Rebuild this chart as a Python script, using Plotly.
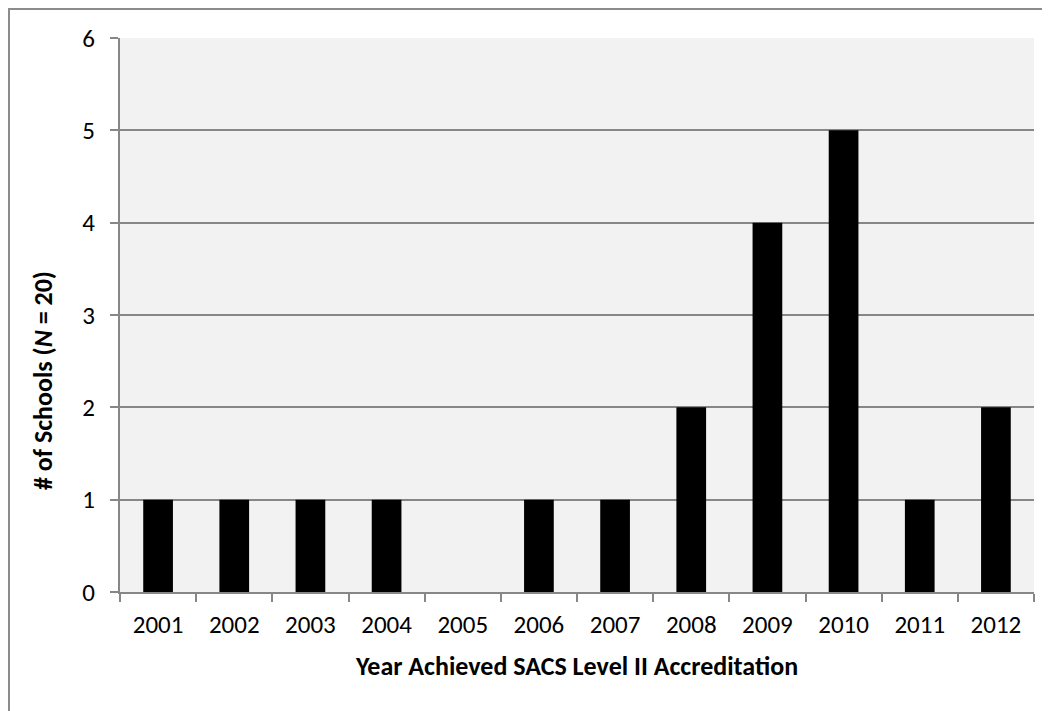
import plotly.graph_objects as go

years = ["2001", "2002", "2003", "2004", "2005", "2006", "2007", "2008", "2009", "2010", "2011", "2012"]
schools = [1, 1, 1, 1, 0, 1, 1, 2, 4, 5, 1, 2]
y_ticks = [0, 1, 2, 3, 4, 5, 6]

# page body has an 8px margin, so figure coords = image coords - 8
W, H = 1042, 703
L, R, T, B = 112, 16, 30, 119
pw, ph = W - L - R, H - T - B

def px_x(x):
    return (x - L) / pw

def px_y(y):
    return (H - B - y) / ph

fig = go.Figure(go.Bar(x=years, y=schools, marker=dict(color="black", line=dict(width=0)),
                       width=0.39))

axis_gray = "#878787"
font_fam = "Carlito, Calibri, 'Open Sans', sans-serif"

fig.update_layout(
    width=W, height=H,
    margin=dict(l=L, r=R, t=T, b=B, autoexpand=False),
    paper_bgcolor="white",
    plot_bgcolor="#f2f2f2",
    showlegend=False,
    font=dict(family=font_fam, color="black"),
    xaxis=dict(
        type="category",
        tickson="boundaries",
        ticks="outside", ticklen=8, tickcolor=axis_gray, tickwidth=2,
        showline=True, linecolor=axis_gray, linewidth=2,
        showgrid=False,
        tickfont=dict(size=25),
        ticklabelstandoff=9,
        title=dict(text="<b>Year Achieved SACS Level II Accreditation</b>", font=dict(size=26), standoff=18),
    ),
    yaxis=dict(
        range=[0, 6],
        tickvals=y_ticks,
        ticks="outside", ticklen=8, tickcolor=axis_gray, tickwidth=2,
        showline=True, linecolor=axis_gray, linewidth=2,
        showgrid=True, gridcolor=axis_gray, gridwidth=1.5,
        zeroline=False,
        tickfont=dict(size=25),
        ticklabelstandoff=10,
    ),
    annotations=[
        dict(text="<b># of Schools (<i>N</i> = 20)</b>", xref="paper", yref="paper",
             x=px_x(35), y=px_y(373), xanchor="center", yanchor="middle",
             textangle=-90, showarrow=False, font=dict(size=26)),
    ],
    shapes=[
        dict(type="line", xref="paper", yref="paper",
             x0=px_x(1), x1=px_x(1), y0=px_y(0), y1=px_y(H + 5),
             line=dict(color="#8c8c8c", width=2)),
        dict(type="line", xref="paper", yref="paper",
             x0=px_x(0), x1=px_x(1038), y0=px_y(1), y1=px_y(1),
             line=dict(color="#8c8c8c", width=2)),
    ],
)

fig.write_html("out.html")
